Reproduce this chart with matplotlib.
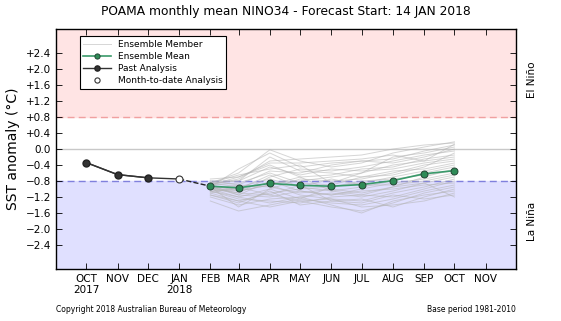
import datetime as dt
import matplotlib
matplotlib.use('Agg')
import matplotlib.pyplot as plt
import matplotlib.dates as mdates

# months on the axis
tick_dates = [dt.date(2017, m, 1) for m in (10, 11, 12)] + [dt.date(2018, m, 1) for m in range(1, 12)]
tick_labels = ['OCT\n2017', 'NOV', 'DEC', 'JAN\n2018', 'FEB', 'MAR', 'APR', 'MAY', 'JUN',
               'JUL', 'AUG', 'SEP', 'OCT', 'NOV']

past_dates = [dt.date(2017, 10, 1), dt.date(2017, 11, 1), dt.date(2017, 12, 1)]
past_vals = [-0.34, -0.64, -0.72]
mtd_date = dt.date(2018, 1, 1)
mtd_val = -0.75

fc_dates = [dt.date(2018, m, 1) for m in range(2, 11)]
ens_mean = [-0.93, -0.97, -0.86, -0.91, -0.93, -0.89, -0.79, -0.62, -0.54]

# ensemble members (FEB..OCT)
members = [
    [-0.85, -0.60, -0.02, -0.30, -0.45, -0.35, -0.10, 0.05, 0.18],
    [-0.90, -0.75, -0.30, -0.25, -0.20, -0.15, 0.00, 0.10, 0.15],
    [-0.95, -0.50, -0.10, -0.45, -0.35, -0.30, -0.25, -0.05, 0.10],
    [-0.80, -0.90, -0.55, -0.60, -0.40, -0.30, -0.35, -0.20, 0.00],
    [-1.00, -1.10, -0.70, -0.50, -0.55, -0.45, -0.30, -0.15, -0.05],
    [-0.75, -0.70, -0.40, -0.70, -0.65, -0.50, -0.45, -0.25, -0.15],
    [-0.95, -1.00, -0.85, -0.80, -0.70, -0.60, -0.40, -0.30, -0.20],
    [-1.05, -1.20, -1.00, -0.75, -0.80, -0.75, -0.60, -0.40, -0.30],
    [-0.90, -0.85, -0.60, -0.85, -0.90, -0.70, -0.55, -0.50, -0.35],
    [-1.10, -1.30, -1.10, -1.00, -0.95, -0.85, -0.70, -0.55, -0.40],
    [-0.85, -0.95, -0.75, -0.95, -1.05, -0.95, -0.80, -0.60, -0.45],
    [-1.00, -0.90, -0.95, -1.10, -1.00, -1.10, -0.95, -0.70, -0.50],
    [-0.95, -1.15, -1.20, -1.05, -1.15, -1.00, -0.85, -0.75, -0.60],
    [-1.20, -1.40, -1.25, -1.20, -1.10, -1.20, -1.05, -0.85, -0.70],
    [-0.90, -1.05, -0.90, -1.15, -1.25, -1.30, -1.10, -0.95, -0.75],
    [-1.05, -1.25, -1.30, -1.35, -1.20, -1.15, -1.20, -1.00, -0.80],
    [-1.30, -1.55, -1.40, -1.25, -1.35, -1.40, -1.25, -1.05, -0.90],
    [-0.95, -1.10, -1.15, -1.30, -1.45, -1.55, -1.35, -1.10, -0.95],
    [-1.15, -1.35, -1.05, -1.40, -1.30, -1.25, -1.45, -1.20, -1.00],
    [-1.00, -1.20, -1.35, -1.20, -1.40, -1.60, -1.30, -1.15, -1.05],
    [-0.80, -0.80, -0.20, -0.55, -0.60, -0.70, -0.65, -0.45, -0.10],
    [-0.85, -0.65, -0.50, -0.40, -0.85, -0.60, -0.20, -0.10, 0.05],
    [-1.05, -1.00, -0.65, -0.95, -0.75, -0.90, -0.90, -0.80, -0.65],
    [-0.90, -1.15, -0.80, -1.05, -1.15, -1.05, -1.00, -0.90, -0.85],
    [-1.10, -0.95, -1.15, -0.90, -1.30, -1.35, -1.15, -1.25, -1.15],
    [-0.95, -1.45, -1.00, -1.25, -0.95, -0.80, -0.75, -0.65, -0.55],
    [-0.85, -0.80, -0.45, -0.65, -0.50, -0.55, -0.50, -0.35, -0.25],
    [-1.00, -1.05, -0.90, -0.70, -1.05, -1.15, -0.95, -0.85, -1.20],
    [-0.90, -0.70, -0.35, -0.35, -0.30, -0.25, -0.15, -0.30, 0.12],
    [-1.15, -1.30, -1.45, -1.30, -1.25, -1.45, -1.40, -1.30, -1.10],
]

yticks = [-2.4, -2.0, -1.6, -1.2, -0.8, -0.4, 0.0, 0.4, 0.8, 1.2, 1.6, 2.0, 2.4]

fig = plt.figure(figsize=(5.61, 3.21), dpi=100)
ax = fig.add_axes([56 / 561, 52 / 321, 460 / 561, 240 / 321])

xmin, xmax = dt.date(2017, 9, 1), dt.date(2018, 12, 1)
ax.axhspan(0.8, 3.0, color='#ffe4e4', zorder=0)
ax.axhspan(-3.0, -0.8, color='#e0e0ff', zorder=0)
ax.axhline(0.8, color='#f0a0a0', ls='--', lw=1, dashes=(5, 3), zorder=1)
ax.axhline(-0.8, color='#8080dd', ls='--', lw=1, dashes=(5, 3), zorder=1)
ax.axhline(0.0, color='#c8c8c8', lw=1, zorder=1)

for i, m in enumerate(members):
    ax.plot(fc_dates, m, color='#b4b4b4', lw=0.7, alpha=0.55, zorder=2,
            label='Ensemble Member' if i == 0 else None)

ax.plot([mtd_date, fc_dates[0]], [mtd_val, ens_mean[0]], color='#222222', ls='--', lw=1, zorder=3)
ax.plot(past_dates + [mtd_date], past_vals + [mtd_val], color='#333333', lw=1, zorder=3)
ax.plot(fc_dates, ens_mean, color='#3a9a6a', lw=1.2, marker='o', ms=5,
        mfc='#2e8b57', mec='#224433', mew=0.7, zorder=4, label='Ensemble Mean')
ax.plot(past_dates, past_vals, color='#333333', lw=1, marker='o', ms=5,
        mfc='#333333', mec='#222222', zorder=4, label='Past Analysis')
ax.plot([mtd_date], [mtd_val], ls='none', marker='o', ms=5, mfc='white',
        mec='#333333', mew=0.8, zorder=5, label='Month-to-date Analysis')

ax.set_xlim(xmin, xmax)
ax.set_ylim(-3.0, 3.0)
ax.set_xticks(tick_dates)
ax.set_xticklabels(tick_labels, fontsize=7.5)
ax.set_yticks(yticks)
ax.set_yticklabels(['%+.1f' % v if v > 0 else ('0.0' if v == 0 else '\u2212%.1f' % abs(v)) for v in yticks],
                   fontsize=7.5)
ax.tick_params(direction='in', top=True, right=True, length=4, width=0.6)
ax.tick_params(axis='y', labelright=False)
for s in ax.spines.values():
    s.set_linewidth(1.0)
ax.set_ylabel('SST anomaly (\u00b0C)', fontsize=10)

ax.text(1.035, 0.79, 'El Ni\u00f1o', transform=ax.transAxes, rotation=90,
        ha='center', va='center', fontsize=7.5)
ax.text(1.035, 0.2, 'La Ni\u00f1a', transform=ax.transAxes, rotation=90,
        ha='center', va='center', fontsize=7.5)

ax.set_title('POAMA monthly mean NINO34 - Forecast Start: 14 JAN 2018', fontsize=8.8, pad=10)

leg = ax.legend(loc='upper left', bbox_to_anchor=(0.042, 0.988), fontsize=6.5, frameon=True,
                fancybox=False, edgecolor='black', framealpha=1, borderpad=0.4,
                handlelength=3, labelspacing=0.35, markerscale=0.75)
leg.get_frame().set_linewidth(0.8)

fig.text(56 / 561, 9 / 321, 'Copyright 2018 Australian Bureau of Meteorology', fontsize=5.5)
fig.text(516 / 561, 9 / 321, 'Base period 1981-2010', fontsize=5.5, ha='right')

fig.savefig('out.png', dpi=100)
